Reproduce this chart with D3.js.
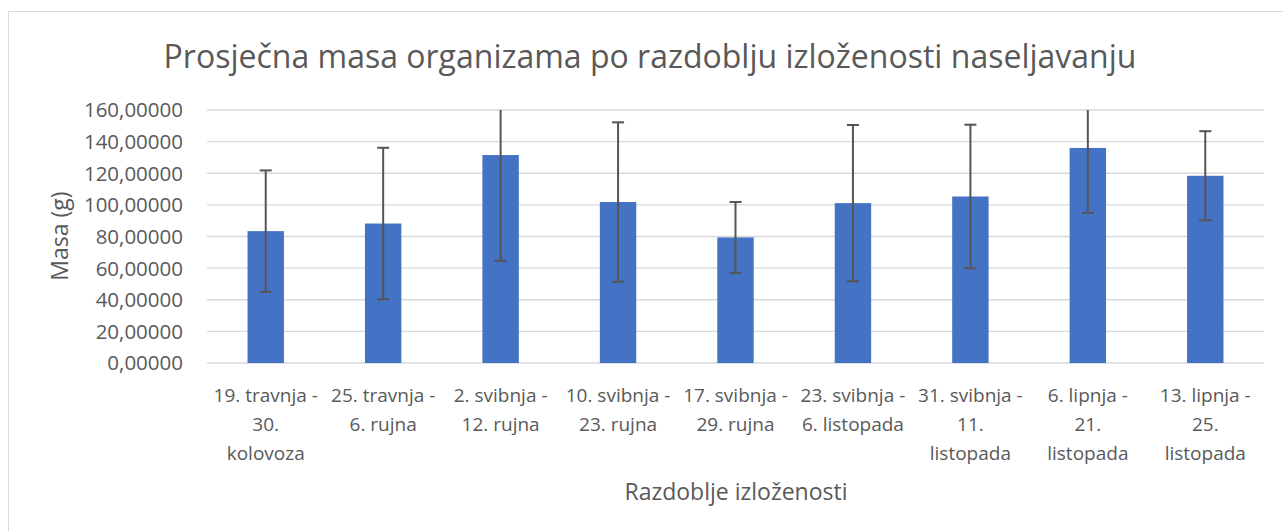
<!DOCTYPE html>
<html>
<head>
<meta charset="utf-8">
<script src="https://cdn.jsdelivr.net/npm/d3@7"></script>
<style>
  body { margin: 0; background: #fff; }
  svg { display: block; }
  text { font-family: "Open Sans", "Noto Sans", sans-serif; fill: #595959; }
</style>
</head>
<body>
<svg id="chart"></svg>
<script>
// category labels, already broken into lines the way the chart wraps them
const periods = [
  ["19. travnja -", "30.", "kolovoza"],
  ["25. travnja -", "6. rujna"],
  ["2. svibnja -", "12. rujna"],
  ["10. svibnja -", "23. rujna"],
  ["17. svibnja -", "29. rujna"],
  ["23. svibnja -", "6. listopada"],
  ["31. svibnja -", "11.", "listopada"],
  ["6. lipnja -", "21.", "listopada"],
  ["13. lipnja -", "25.", "listopada"]
];
// mean mass (g) and standard deviation for each period
const meanMass = [83.4, 88.2, 131.5, 101.8, 79.4, 101.1, 105.3, 136.0, 118.4];
const sdMass = [38.4, 47.9, 66.9, 50.4, 22.4, 49.4, 45.4, 41.0, 28.2];
const yTicks = [0, 20, 40, 60, 80, 100, 120, 140, 160];

const width = 1283;
const height = 531;
const margin = { top: 110, right: 19, bottom: 168, left: 207 };

const svg = d3.select("#chart")
  .attr("width", width)
  .attr("height", height);

// chart frame (right/bottom edges fall outside the picture)
svg.append("rect")
  .attr("x", 8.5)
  .attr("y", 11.5)
  .attr("width", 1400)
  .attr("height", 700)
  .attr("fill", "none")
  .attr("stroke", "#d9d9d9")
  .attr("stroke-width", 1);

const x = d3.scaleBand()
  .domain(d3.range(periods.length))
  .range([margin.left, width - margin.right])
  .paddingInner(0.69)
  .paddingOuter(0.345);

const y = d3.scaleLinear()
  .domain([0, 160])
  .range([height - margin.bottom, margin.top]);

const fmt = d3.formatLocale({ decimal: ",", thousands: ".", grouping: [3], currency: ["", ""] }).format(".5f");

// gridlines
svg.append("g")
  .selectAll("line")
  .data(yTicks)
  .join("line")
  .attr("x1", margin.left)
  .attr("x2", width - margin.right)
  .attr("y1", d => y(d))
  .attr("y2", d => y(d))
  .attr("stroke", "#d9d9d9")
  .attr("stroke-width", 1.3);

// y tick labels
svg.append("g")
  .selectAll("text")
  .data(yTicks)
  .join("text")
  .attr("x", 183)
  .attr("y", d => y(d))
  .attr("dy", "0.36em")
  .attr("text-anchor", "end")
  .attr("font-size", 20.5)
  .text(d => fmt(d));

// bars
svg.append("g")
  .selectAll("rect")
  .data(meanMass)
  .join("rect")
  .attr("x", (d, i) => x(i))
  .attr("y", d => y(d))
  .attr("width", x.bandwidth())
  .attr("height", d => y(0) - y(d))
  .attr("fill", "#4472c4");

// error bars, clipped at the top of the plot
svg.append("clipPath")
  .attr("id", "plot-clip")
  .append("rect")
  .attr("x", margin.left)
  .attr("y", margin.top)
  .attr("width", width - margin.left - margin.right)
  .attr("height", height - margin.top - margin.bottom);

const err = svg.append("g")
  .attr("clip-path", "url(#plot-clip)")
  .attr("stroke", "#555555")
  .attr("stroke-width", 2);

const errData = meanMass.map((m, i) => ({ i, lo: m - sdMass[i], hi: m + sdMass[i] }));
const cx = d => x(d.i) + x.bandwidth() / 2;

err.selectAll(".stem")
  .data(errData)
  .join("line")
  .attr("class", "stem")
  .attr("x1", cx).attr("x2", cx)
  .attr("y1", d => y(d.lo))
  .attr("y2", d => y(d.hi));

err.selectAll(".cap-hi")
  .data(errData)
  .join("line")
  .attr("class", "cap-hi")
  .attr("x1", d => cx(d) - 6).attr("x2", d => cx(d) + 6)
  .attr("y1", d => y(d.hi)).attr("y2", d => y(d.hi));

err.selectAll(".cap-lo")
  .data(errData)
  .join("line")
  .attr("class", "cap-lo")
  .attr("x1", d => cx(d) - 6).attr("x2", d => cx(d) + 6)
  .attr("y1", d => y(d.lo)).attr("y2", d => y(d.lo));

// x category labels
const xl = svg.append("g")
  .selectAll("text")
  .data(periods)
  .join("text")
  .attr("x", (d, i) => x(i) + x.bandwidth() / 2)
  .attr("y", 402)
  .attr("text-anchor", "middle")
  .attr("font-size", 19);

xl.selectAll("tspan")
  .data(d => d)
  .join("tspan")
  .attr("x", function () { return this.parentNode.getAttribute("x"); })
  .attr("dy", (d, j) => j === 0 ? 0 : 29)
  .text(d => d);

// axis titles
svg.append("text")
  .attr("x", 736)
  .attr("y", 500)
  .attr("text-anchor", "middle")
  .attr("font-size", 23)
  .text("Razdoblje izloženosti");

svg.append("text")
  .attr("transform", "translate(68,236) rotate(-90)")
  .attr("text-anchor", "middle")
  .attr("font-size", 23)
  .text("Masa (g)");

// chart title
svg.append("text")
  .attr("x", 650)
  .attr("y", 68)
  .attr("text-anchor", "middle")
  .attr("font-size", 32)
  .text("Prosječna masa organizama po razdoblju izloženosti naseljavanju");
</script>
</body>
</html>
